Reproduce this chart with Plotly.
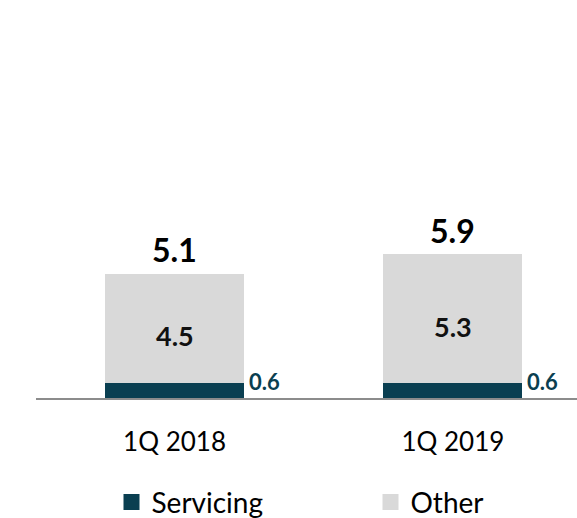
import plotly.graph_objects as go

# Quarterly revenue split (in billions)
quarters = ["1Q 2018", "1Q 2019"]
servicing = [0.6, 0.6]
other = [4.5, 5.3]
totals = [5.1, 5.9]

TEAL = "#0A3F51"
GRAY = "#D9D9D9"
FONT = "Lato"

fig = go.Figure()

# Stacked bars
fig.add_trace(go.Bar(x=quarters, y=servicing, name="Servicing",
                     marker=dict(color=TEAL, line=dict(width=0)),
                     width=0.5, showlegend=False))
fig.add_trace(go.Bar(x=quarters, y=other, name="Other",
                     marker=dict(color=GRAY, line=dict(width=0)),
                     width=0.5, showlegend=False))

# Legend entries with larger square swatches, one legend box per series
fig.add_trace(go.Scatter(x=[None], y=[None], mode="markers", name="Servicing",
                         marker=dict(symbol="square", size=16, color=TEAL),
                         legend="legend"))
fig.add_trace(go.Scatter(x=[None], y=[None], mode="markers", name="Other",
                         marker=dict(symbol="square", size=16, color=GRAY),
                         legend="legend2"))

annotations = []
for q, s, o, t in zip(quarters, servicing, other, totals):
    # total above the bar
    annotations.append(dict(x=q, y=t, text=f"<b>{t:.1f}</b>", showarrow=False,
                            yanchor="middle", yshift=24,
                            font=dict(family=FONT, size=32, color="#000000")))
    # "Other" value inside the bar
    annotations.append(dict(x=q, y=(s + o) / 2, text=f"<b>{o:.1f}</b>", showarrow=False,
                            yanchor="middle",
                            font=dict(family=FONT, size=27, color="#111111")))
    # servicing value to the right of the bar
    annotations.append(dict(x=q, y=s, text=f"<b>{s:.1f}</b>", showarrow=False,
                            xanchor="left", yanchor="middle", xshift=72, yshift=2,
                            font=dict(family=FONT, size=22, color=TEAL)))

legend_style = dict(orientation="h", xanchor="left", yanchor="middle", y=-0.262,
                    font=dict(family=FONT, size=28, color="#000000"),
                    bgcolor="rgba(0,0,0,0)")

fig.update_layout(
    barmode="stack",
    width=577, height=518,
    margin=dict(l=36, r=0, t=0, b=120, autoexpand=False),
    paper_bgcolor="white", plot_bgcolor="white",
    font=dict(family=FONT, color="#000000"),
    xaxis=dict(type="category", range=[-0.4977, 1.446],
               showline=True, linecolor="#8C8C8C", linewidth=2,
               ticks="", showgrid=False, zeroline=False,
               tickfont=dict(family=FONT, size=26, color="#000000"),
               ticklabelstandoff=20),
    yaxis=dict(range=[0, 16.34], visible=False, showgrid=False, zeroline=False),
    legend=dict(x=(111.5 - 36) / 541, **legend_style),
    legend2=dict(x=(370.5 - 36) / 541, **legend_style),
    annotations=annotations,
    showlegend=True,
)

fig.write_html("out.html")
